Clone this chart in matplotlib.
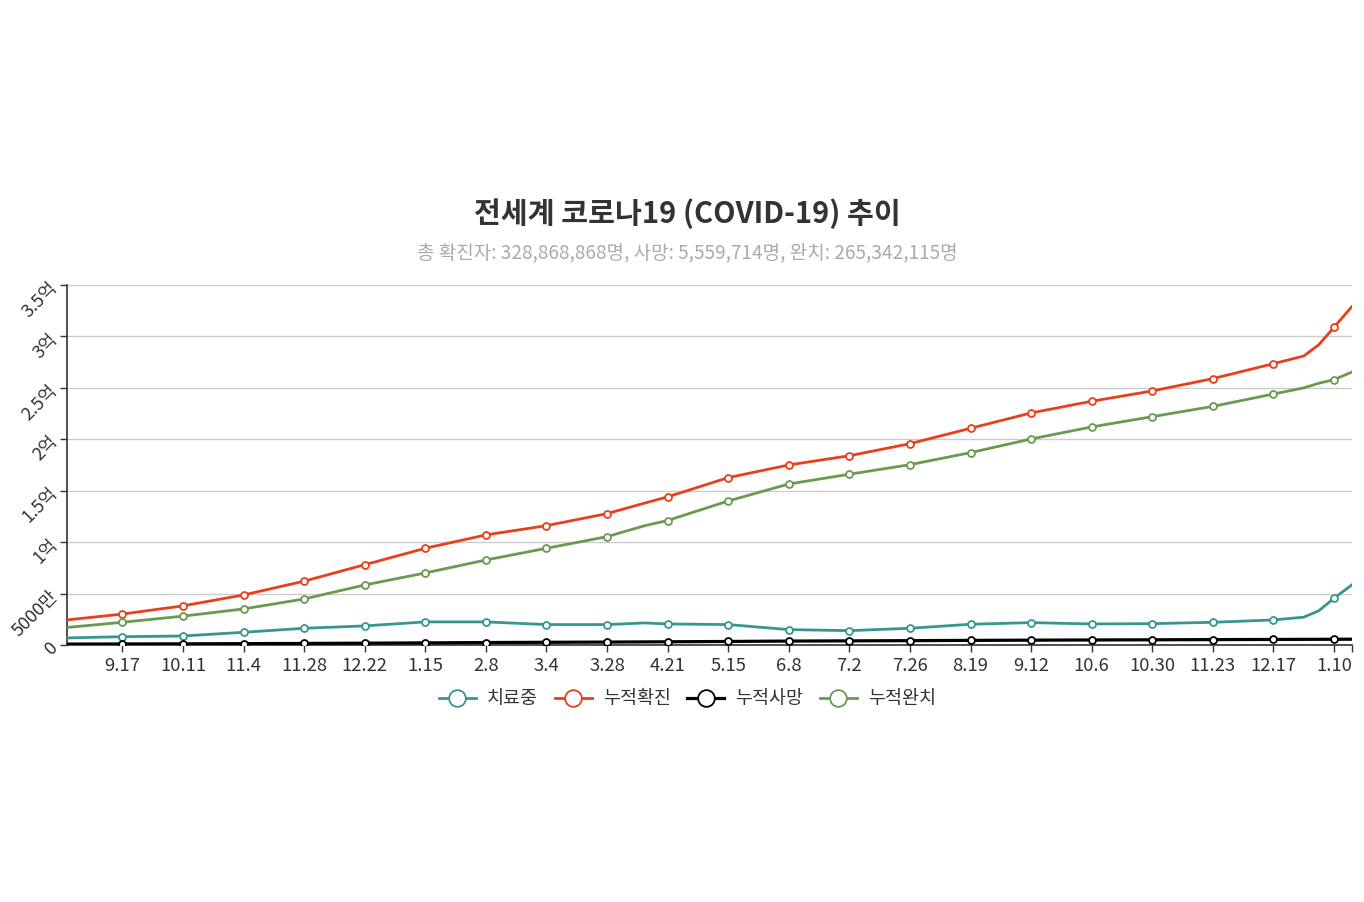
import matplotlib
matplotlib.use('Agg')
import matplotlib.pyplot as plt
import pandas as pd

plt.rcParams['font.family'] = ['Noto Sans CJK KR', 'DejaVu Sans']

dates = ['2020-08-26', '2020-09-17', '2020-10-11', '2020-11-04', '2020-11-28',
         '2020-12-22', '2021-01-15', '2021-02-08', '2021-03-04', '2021-03-28',
         '2021-04-12', '2021-04-21', '2021-05-15', '2021-06-08', '2021-07-02',
         '2021-07-26', '2021-08-19', '2021-09-12', '2021-10-06', '2021-10-30',
         '2021-11-23', '2021-12-17', '2021-12-29', '2022-01-04', '2022-01-10',
         '2022-01-17']

# values in millions
active = [6.8, 8.0, 8.7, 12.3, 16.2, 18.5, 22.4, 22.4, 19.8, 19.8, 21.4, 20.4, 19.8,
          14.9, 13.9, 16.2, 20.1, 21.7, 20.4, 20.7, 22.0, 24.3, 27.0, 33.3, 45.4, 58.3]
confirmed = [24.3, 30.0, 38.0, 48.6, 62.0, 78.0, 94.0, 107.0, 116.0, 127.7, 138.0, 144.0,
             162.7, 175.0, 184.0, 195.7, 210.7, 225.6, 237.0, 247.0, 259.0, 273.5, 281.0,
             292.0, 309.0, 328.9]
deaths = [0.81, 0.94, 1.08, 1.25, 1.45, 1.71, 2.0, 2.33, 2.56, 2.78, 2.95, 3.06, 3.38,
          3.75, 3.96, 4.16, 4.42, 4.64, 4.83, 5.0, 5.17, 5.34, 5.42, 5.47, 5.5, 5.56]
recovered = [17.0, 22.0, 28.0, 35.0, 44.7, 58.3, 70.0, 82.6, 94.0, 105.3, 116.0, 121.0,
             140.0, 156.5, 166.0, 175.3, 187.0, 200.3, 212.0, 222.0, 232.0, 244.0, 250.0,
             254.5, 258.0, 265.3]

tick_dates = ['2020-09-17', '2020-10-11', '2020-11-04', '2020-11-28', '2020-12-22',
              '2021-01-15', '2021-02-08', '2021-03-04', '2021-03-28', '2021-04-21',
              '2021-05-15', '2021-06-08', '2021-07-02', '2021-07-26', '2021-08-19',
              '2021-09-12', '2021-10-06', '2021-10-30', '2021-11-23', '2021-12-17',
              '2022-01-10']

names = ['치료중', '누적확진', '누적사망', '누적완치']
colors = ['#37978f', '#e8401c', '#000000', '#6a9a50']
widths = [2.0, 2.0, 2.3, 2.0]

x = pd.to_datetime(dates)
ticks = pd.to_datetime(tick_dates)
marks = [i for i, d in enumerate(x) if d in set(ticks)]

fig = plt.figure(figsize=(13.64, 9.02), dpi=100)
ax = fig.add_axes([0.049, 0.285, 0.942, 0.399])

for vals, name, c, w in zip([active, confirmed, deaths, recovered], names, colors, widths):
    ax.plot(x, [v * 1e6 for v in vals], color=c, lw=w, label=name,
            marker='o', markevery=marks, ms=5, mfc='white', mec=c, mew=1.3, zorder=3)

ax.set_xlim(x[0], x[-1])
ax.set_ylim(0, 3.5e8)
ax.set_xticks(list(ticks) + [x[-1]])
ax.set_xticklabels([f'{d.month}.{d.day}' for d in ticks] + [''], fontsize=13.3, color='#333333')

yt = [i * 5e7 for i in range(8)]
ylab = ['0', '5000만', '1억', '1.5억', '2억', '2.5억', '3억', '3.5억']
ax.set_yticks(yt)
ax.set_yticklabels(ylab, fontsize=13, color='#333333', rotation=45,
                   ha='right', va='center', rotation_mode='anchor')

ax.grid(axis='y', color='#cccccc', lw=1)
ax.set_axisbelow(True)
for s in ['top', 'right']:
    ax.spines[s].set_visible(False)
for s in ['left', 'bottom']:
    ax.spines[s].set_color('#333333')
    ax.spines[s].set_linewidth(1.2)
ax.tick_params(axis='both', length=5, color='#333333', width=1)
ax.tick_params(axis='x', pad=4)

fig.text(0.504, 0.763, '전세계 코로나19 (COVID-19) 추이', ha='center', va='center',
         fontsize=21, fontweight='bold', color='#333333')
fig.text(0.504, 0.720, '총 확진자: 328,868,868명, 사망: 5,559,714명, 완치: 265,342,115명',
         ha='center', va='center', fontsize=13.7, color='#aaaaaa')

leg = fig.legend(loc='center', bbox_to_anchor=(0.504, 0.225), ncol=4, frameon=False,
                 fontsize=13.3, handlelength=2.0, columnspacing=0.9, handletextpad=0.6,
                 markerscale=2.4)
for t in leg.get_texts():
    t.set_color('#333333')

fig.savefig('out.png', dpi=100)
